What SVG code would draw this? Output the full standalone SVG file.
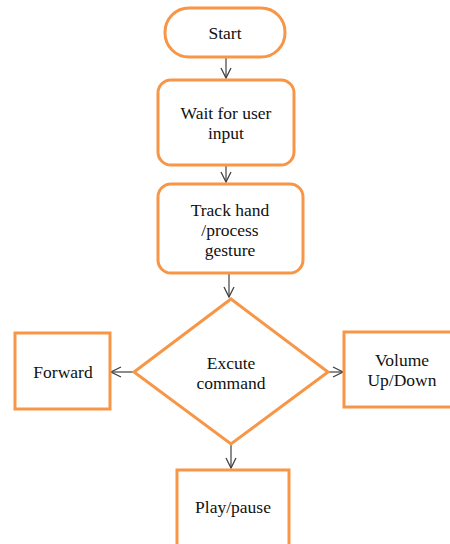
<svg xmlns="http://www.w3.org/2000/svg" width="450" height="544" viewBox="0 0 450 544">
<defs>
<style>
.box{fill:#fff;stroke:#F79646;stroke-width:3}
.t{font-family:'Times New Roman','Liberation Serif',serif;font-size:17.5px;fill:#111;text-anchor:middle}
.c{stroke:#404040;stroke-width:1.2;fill:none}
</style>
<marker id="ah" viewBox="0 0 12 12" refX="11" refY="6" markerWidth="12" markerHeight="12" markerUnits="userSpaceOnUse" orient="auto">
<path d="M1,1 L11,6 L1,11" fill="none" stroke="#404040" stroke-width="1.3"/>
</marker>
</defs>
<rect width="450" height="544" fill="#fff"/>
<g id="connectors">
<line class="c" x1="226" y1="57" x2="226" y2="78" marker-end="url(#ah)"/>
<line class="c" x1="226" y1="165" x2="226" y2="182" marker-end="url(#ah)"/>
<line class="c" x1="229" y1="274" x2="229" y2="297" marker-end="url(#ah)"/>
<line class="c" x1="134" y1="372" x2="111" y2="372" marker-end="url(#ah)"/>
<line class="c" x1="328" y1="372" x2="343" y2="372" marker-end="url(#ah)"/>
<line class="c" x1="231" y1="444" x2="231" y2="468" marker-end="url(#ah)"/>
</g>
<g id="start">
<rect class="box" x="165" y="8" width="120" height="49" rx="24"/>
<text class="t" x="225" y="39" font-family="Liberation Serif, serif">Start</text>
</g>
<g id="wait">
<rect class="box" x="158" y="80" width="136" height="85" rx="13"/>
<text class="t" x="226" y="119" font-family="Liberation Serif, serif">Wait for user</text>
<text class="t" x="226" y="139" font-family="Liberation Serif, serif">input</text>
</g>
<g id="track">
<rect class="box" x="158" y="184" width="145" height="89" rx="13"/>
<text class="t" x="230" y="216" font-family="Liberation Serif, serif">Track hand</text>
<text class="t" x="230" y="236" font-family="Liberation Serif, serif">/process</text>
<text class="t" x="230" y="256" font-family="Liberation Serif, serif">gesture</text>
</g>
<g id="execute">
<polygon class="box" points="231,299 328,372 231,444 134,372"/>
<text class="t" x="231" y="369" font-family="Liberation Serif, serif">Excute</text>
<text class="t" x="231" y="389" font-family="Liberation Serif, serif">command</text>
</g>
<g id="forward">
<rect class="box" x="15" y="333" width="95" height="76"/>
<text class="t" x="63" y="378" font-family="Liberation Serif, serif">Forward</text>
</g>
<g id="volume">
<rect class="box" x="344" y="332" width="110" height="75"/>
<text class="t" x="402" y="366" font-family="Liberation Serif, serif">Volume</text>
<text class="t" x="402" y="386" font-family="Liberation Serif, serif">Up/Down</text>
</g>
<g id="play">
<rect class="box" x="177" y="470" width="112" height="80"/>
<text class="t" x="233" y="513" font-family="Liberation Serif, serif">Play/pause</text>
</g>
</svg>
